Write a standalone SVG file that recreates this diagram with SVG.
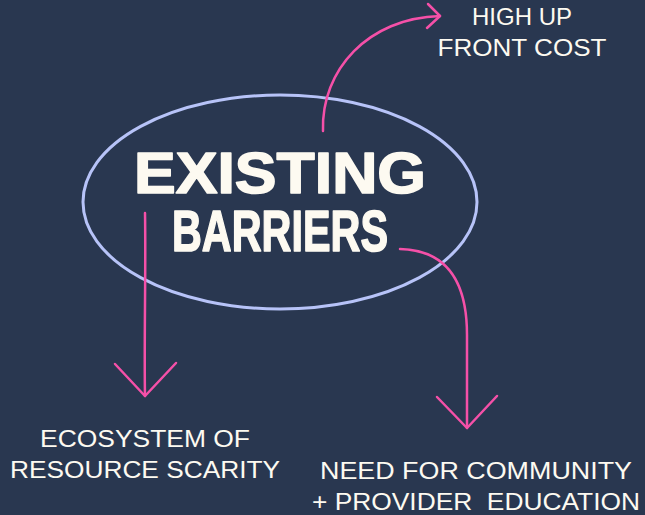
<svg xmlns="http://www.w3.org/2000/svg" width="645" height="515" viewBox="0 0 645 515">
  <style>
    .title { font-family: "Liberation Sans", Arial, sans-serif; font-weight: bold; fill: #fdfaf1; stroke: #fdfaf1; stroke-width: 1.6; stroke-linejoin: round; }
    .label { font-family: "Liberation Sans", Arial, sans-serif; font-size: 24px; fill: #fdfaf1; text-anchor: middle; }
    .link { fill: none; stroke: #f550a8; stroke-width: 2.5; stroke-linecap: round; stroke-linejoin: round; }
  </style>
  <rect width="645" height="515" fill="#293750"/>

  <g id="existing-barriers">
    <ellipse cx="280" cy="202" rx="197" ry="107" fill="none" stroke="#b7c3f8" stroke-width="3"/>
    <text class="title" x="134" y="193" font-size="58" textLength="292" lengthAdjust="spacingAndGlyphs">EXISTING</text>
    <text class="title" x="172" y="251" font-size="58" textLength="216" lengthAdjust="spacingAndGlyphs">BARRIERS</text>
  </g>

  <g id="high-up-front-cost">
    <text class="label" x="522" y="25">HIGH UP</text>
    <text class="label" x="522" y="56" textLength="169" lengthAdjust="spacingAndGlyphs">FRONT COST</text>
  </g>

  <g id="ecosystem-of-resource-scarity">
    <text class="label" x="145" y="447" textLength="210" lengthAdjust="spacingAndGlyphs">ECOSYSTEM OF</text>
    <text class="label" x="145" y="478" textLength="270" lengthAdjust="spacingAndGlyphs">RESOURCE SCARITY</text>
  </g>

  <g id="community-provider-education">
    <text class="label" x="476" y="479" textLength="312" lengthAdjust="spacingAndGlyphs">NEED FOR COMMUNITY</text>
    <text class="label" x="476" y="510" textLength="328" lengthAdjust="spacingAndGlyphs" xml:space="preserve">+ PROVIDER  EDUCATION</text>
  </g>

  <g id="connectors">
    <!-- up to the cost label -->
    <path class="link" d="M323,131 C321,70 368,18 440,16"/>
    <path class="link" d="M428,4 L440,16 L427,28"/>
    <!-- straight down to the scarcity label -->
    <path class="link" d="M145,213 C146,270 144,340 145,396"/>
    <path class="link" d="M115,364 L145,396 L176,363"/>
    <!-- over and down to the education label -->
    <path class="link" d="M400,249 C442,250 467,275 467,335 L467,428"/>
    <path class="link" d="M437,397 L467,428 L497,396"/>
  </g>
</svg>
